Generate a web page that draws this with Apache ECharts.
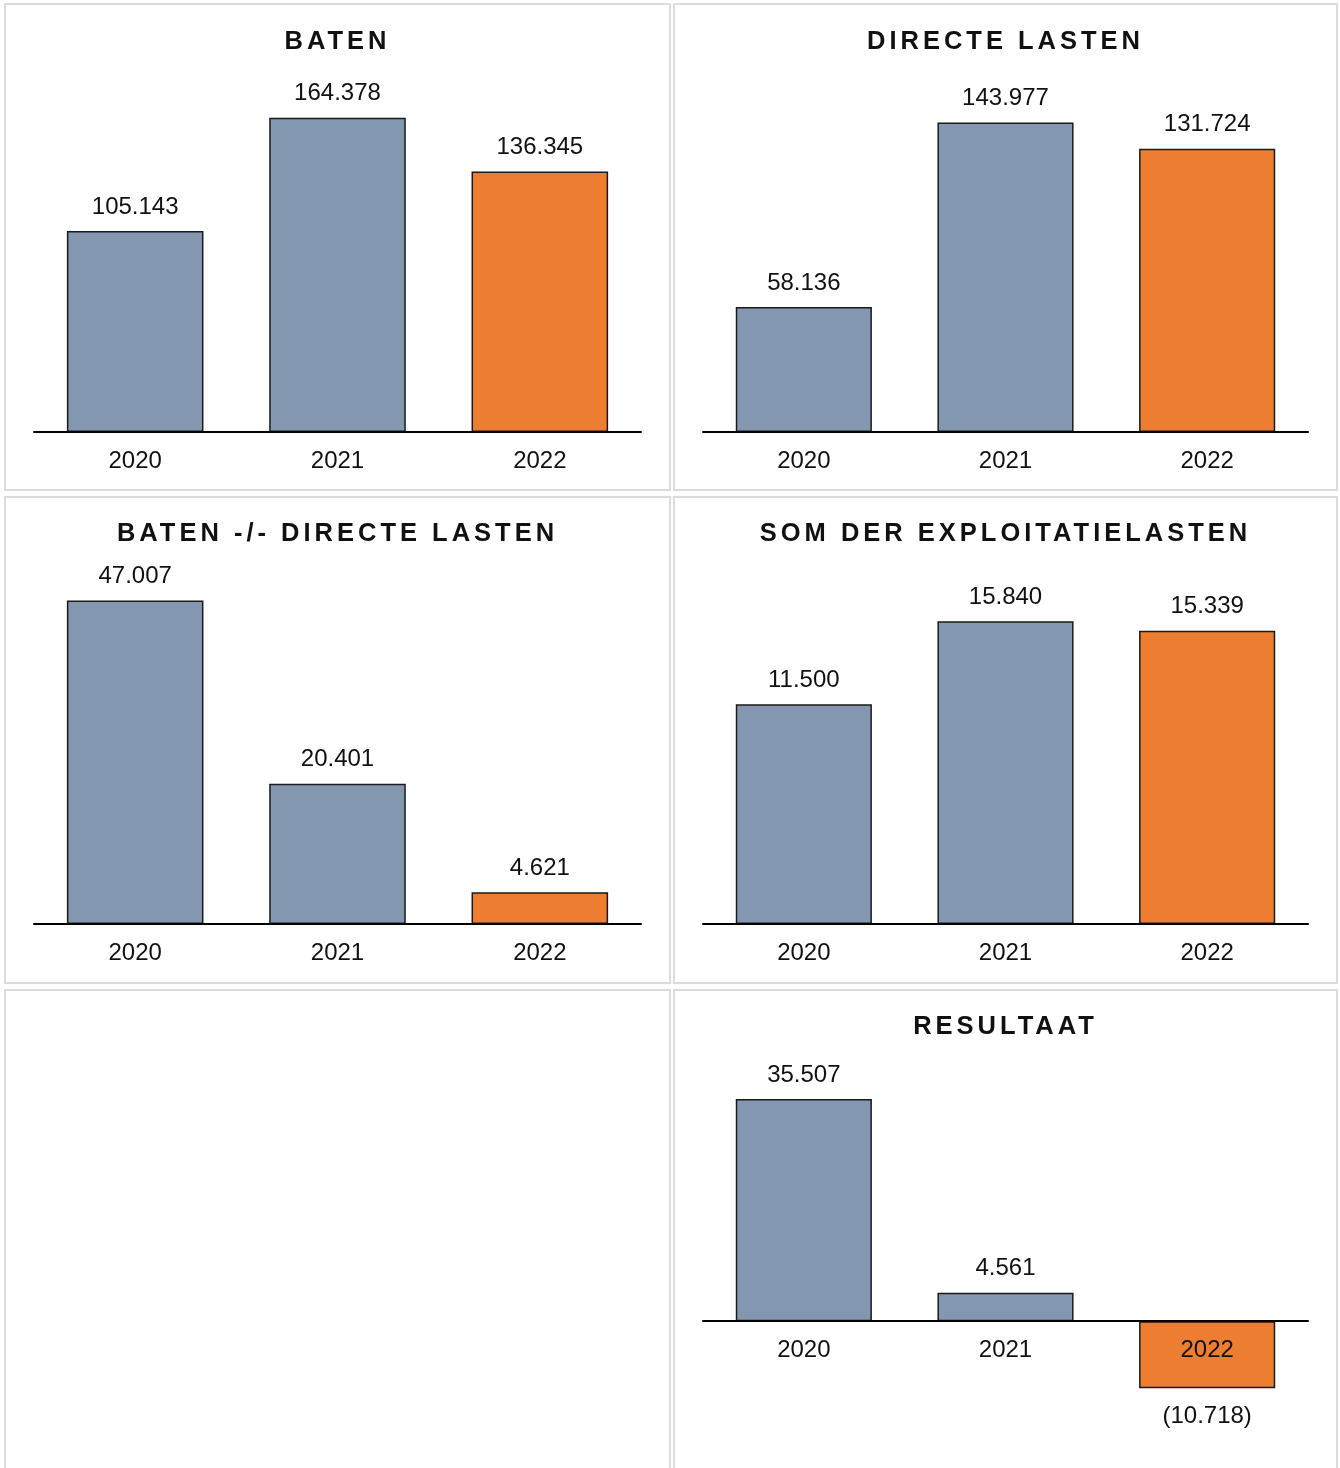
<!DOCTYPE html>
<html>
<head>
<meta charset="utf-8">
<script src="https://cdn.jsdelivr.net/npm/echarts@6/dist/echarts.min.js"></script>
<style>
  html, body { margin: 0; padding: 0; background: #fff; }
  body { width: 1340px; height: 1468px; position: relative; overflow: hidden; font-family: "Liberation Sans", Arial, sans-serif; }
  .panel { position: absolute; box-sizing: border-box; border: 2px solid #dcdcdc; height: 488px; background: #fff; }
  .title { position: absolute; left: 0; right: 0; text-align: center; font-weight: bold; font-size: 25.5px; line-height: 25px; letter-spacing: 4px; color: #111; z-index: 2; }
  .chart { position: absolute; left: 0; top: 0; right: 0; bottom: 0; }
</style>
</head>
<body>
<div class="panel" style="left:4px;top:3px;width:667px;"><div class="chart" id="c0"></div><div class="title" id="t0" style="top:23px"></div></div>
<div class="panel" style="left:673px;top:3px;width:665px;"><div class="chart" id="c1"></div><div class="title" id="t1" style="top:23px"></div></div>
<div class="panel" style="left:4px;top:496px;width:667px;"><div class="chart" id="c2"></div><div class="title" id="t2" style="top:22px"></div></div>
<div class="panel" style="left:673px;top:496px;width:665px;"><div class="chart" id="c3"></div><div class="title" id="t3" style="top:22px"></div></div>
<div class="panel" style="left:4px;top:989px;width:667px;"></div>
<div class="panel" style="left:673px;top:989px;width:665px;"><div class="chart" id="c4"></div><div class="title" id="t4" style="top:22px"></div></div>
<script>
// ---- data ----
const categories = ['2020', '2021', '2022'];
const titles = ['BATEN', 'DIRECTE LASTEN', 'BATEN -/- DIRECTE LASTEN', 'SOM DER EXPLOITATIELASTEN', 'RESULTAAT'];
const batenValues = [105143, 164378, 136345];
const directeLastenValues = [58136, 143977, 131724];
const batenMinDirecteLastenValues = [47007, 20401, 4621];
const exploitatieLastenValues = [11500, 15840, 15339];
const resultaatValues = [35507, 4561, -10718];
const seriesList = [batenValues, directeLastenValues, batenMinDirecteLastenValues, exploitatieLastenValues, resultaatValues];
const axisMin = [0, 0, 0, 0, -15000];
const axisMax = [180000, 160000, 50000, 18000, 40000];
const gridTops = [83, 83, 82, 82, 80];
const GRID_H = 344;

const BLUE = '#8497B0';
const ORANGE = '#ED7D31';
const FONT = '"Liberation Sans", Arial, sans-serif';

function fmt(n) {
  const s = String(Math.abs(n)).replace(/\B(?=(\d{3})+(?!\d))/g, '.');
  return n < 0 ? '(' + s + ')' : s;
}

seriesList.forEach(function (vals, i) {
  document.getElementById('t' + i).textContent = titles[i];
  const chart = echarts.init(document.getElementById('c' + i), null, { renderer: 'canvas' });
  const data = vals.map(function (v, j) {
    return {
      value: v,
      itemStyle: { color: j === vals.length - 1 ? ORANGE : BLUE },
      label: { position: v < 0 ? 'bottom' : 'top', distance: v < 0 ? 16 : 12 }
    };
  });
  // place the category axis at the zero level of the value axis
  const zeroOffset = -GRID_H * (0 - axisMin[i]) / (axisMax[i] - axisMin[i]);
  chart.setOption({
    animation: false,
    grid: { left: 28, right: 28, top: gridTops[i], height: GRID_H },
    xAxis: {
      type: 'category',
      data: categories,
      z: 10,
      offset: zeroOffset,
      axisLine: { show: true, onZero: false, lineStyle: { color: '#000', width: 2 } },
      axisTick: { show: false },
      axisLabel: { margin: 17, fontSize: 24, color: '#111', fontFamily: FONT }
    },
    yAxis: {
      type: 'value',
      show: false,
      min: axisMin[i],
      max: axisMax[i],
      splitLine: { show: false }
    },
    series: [{
      type: 'bar',
      data: data,
      barWidth: '67.5%',
      itemStyle: { borderColor: '#1a1a1a', borderWidth: 1.5 },
      label: {
        show: true,
        fontSize: 24,
        color: '#111',
        fontFamily: FONT,
        formatter: function (p) { return fmt(p.value); }
      }
    }]
  });
});
</script>
</body>
</html>
